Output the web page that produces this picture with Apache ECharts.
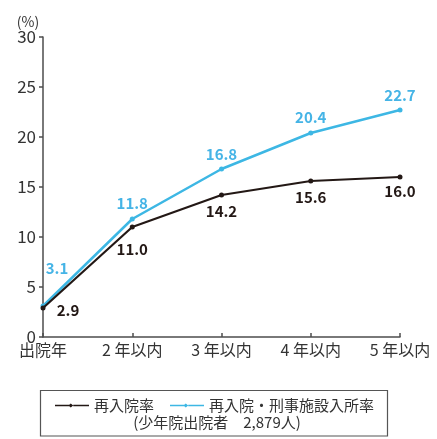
<!DOCTYPE html>
<html>
<head>
<meta charset="utf-8">
<script src="https://cdn.jsdelivr.net/npm/echarts@6/dist/echarts.min.js"></script>
<style>
html,body{margin:0;padding:0;background:#fff;}
#chart{width:437px;height:439px;}
</style>
</head>
<body>
<div id="chart"></div>
<script>
// Categories: years after release
const categories = ['出院年', '2 年以内', '3 年以内', '4 年以内', '5 年以内'];
// 再入院率 (%)
const reentryRate = [2.9, 11.0, 14.2, 15.6, 16.0];
// 再入院・刑事施設入所率 (%)
const reentryOrPrisonRate = [3.1, 11.8, 16.8, 20.4, 22.7];
const yTicks = [0, 5, 10, 15, 20, 25, 30];

const FONT = '"Noto Sans CJK JP", "Noto Sans", sans-serif';
const BLACK = '#231815';
const CYAN = '#3db7e4';
const CYAN_TXT = '#45b4e6';
const LEGEND_ICON = 'path://M0,4.4H13V5.6H0Z M13,3.3L15,5L13,6.7L11,5Z M15,4.4H28V5.6H15Z';

const chart = echarts.init(document.getElementById('chart'), null, {renderer: 'canvas'});

chart.setOption({
  animation: false,
  backgroundColor: '#fff',
  textStyle: {fontFamily: FONT},
  grid: {left: 43, right: 37, top: 37, bottom: 102, containLabel: false},
  xAxis: {
    type: 'category',
    data: categories,
    boundaryGap: false,
    axisLine: {lineStyle: {color: '#4d4d4d', width: 1.5}},
    axisTick: {inside: true, length: 4, lineStyle: {color: '#4d4d4d', width: 1.5}},
    axisLabel: {color: '#333', fontSize: 16, margin: 5, fontFamily: FONT}
  },
  yAxis: {
    type: 'value',
    min: yTicks[0],
    max: yTicks[yTicks.length - 1],
    interval: 5,
    name: '(%)',
    nameLocation: 'end',
    nameGap: 6,
    nameTextStyle: {color: '#333', fontSize: 14, align: 'center', padding: [0, 30, 0, 0]},
    splitLine: {show: false},
    axisLine: {show: true, lineStyle: {color: '#4d4d4d', width: 1.5}},
    axisTick: {show: true, length: 4, lineStyle: {color: '#4d4d4d', width: 1.5}},
    axisLabel: {color: '#333', fontSize: 17, margin: 7}
  },
  legend: {
    left: 50,
    top: 393,
    itemGap: 16,
    itemWidth: 34,
    itemHeight: 10,
    textStyle: {color: '#333', fontSize: 15, fontFamily: FONT},
    data: [
      {name: '再入院率', icon: LEGEND_ICON},
      {name: '再入院・刑事施設入所率', icon: LEGEND_ICON}
    ]
  },
  graphic: [
    {
      type: 'rect',
      shape: {x: 40.5, y: 390.5, width: 347, height: 45.5},
      style: {fill: 'none', stroke: '#555', lineWidth: 1.2}
    },
    {
      type: 'text',
      x: 217,
      y: 415,
      style: {
        text: '(少年院出院者　2,879人)',
        fill: '#333',
        font: '15px ' + FONT,
        textAlign: 'center'
      }
    }
  ],
  series: [
    {
      name: '再入院・刑事施設入所率',
      type: 'line',
      data: reentryOrPrisonRate,
      symbol: 'circle',
      symbolSize: 5,
      z: 3,
      lineStyle: {color: CYAN, width: 2.5},
      itemStyle: {color: CYAN},
      label: {
        show: true,
        position: 'top',
        distance: 6,
        color: CYAN_TXT,
        fontSize: 15,
        fontWeight: 'bold',
        fontFamily: FONT,
        formatter: function (p) { return p.value.toFixed(1); }
      },
      labelLayout: function (params) {
        const dxs = [14, 0, 0, 0, 0];
        const dys = [-22, 0, 1, 0, 1];
        return {dx: dxs[params.dataIndex], dy: dys[params.dataIndex]};
      }
    },
    {
      name: '再入院率',
      type: 'line',
      data: reentryRate,
      symbol: 'circle',
      symbolSize: 5,
      z: 4,
      lineStyle: {color: BLACK, width: 2.2},
      itemStyle: {color: BLACK},
      label: {
        show: true,
        position: 'bottom',
        distance: 6,
        color: BLACK,
        fontSize: 15,
        fontWeight: 'bold',
        fontFamily: FONT,
        formatter: function (p) { return p.value.toFixed(1); }
      },
      labelLayout: function (params) {
        const dxs = [25, 0, 0, 0, 0];
        const dys = [-14, 6, 0, 0, -2];
        return {dx: dxs[params.dataIndex], dy: dys[params.dataIndex]};
      }
    }
  ]
});
</script>
</body>
</html>
